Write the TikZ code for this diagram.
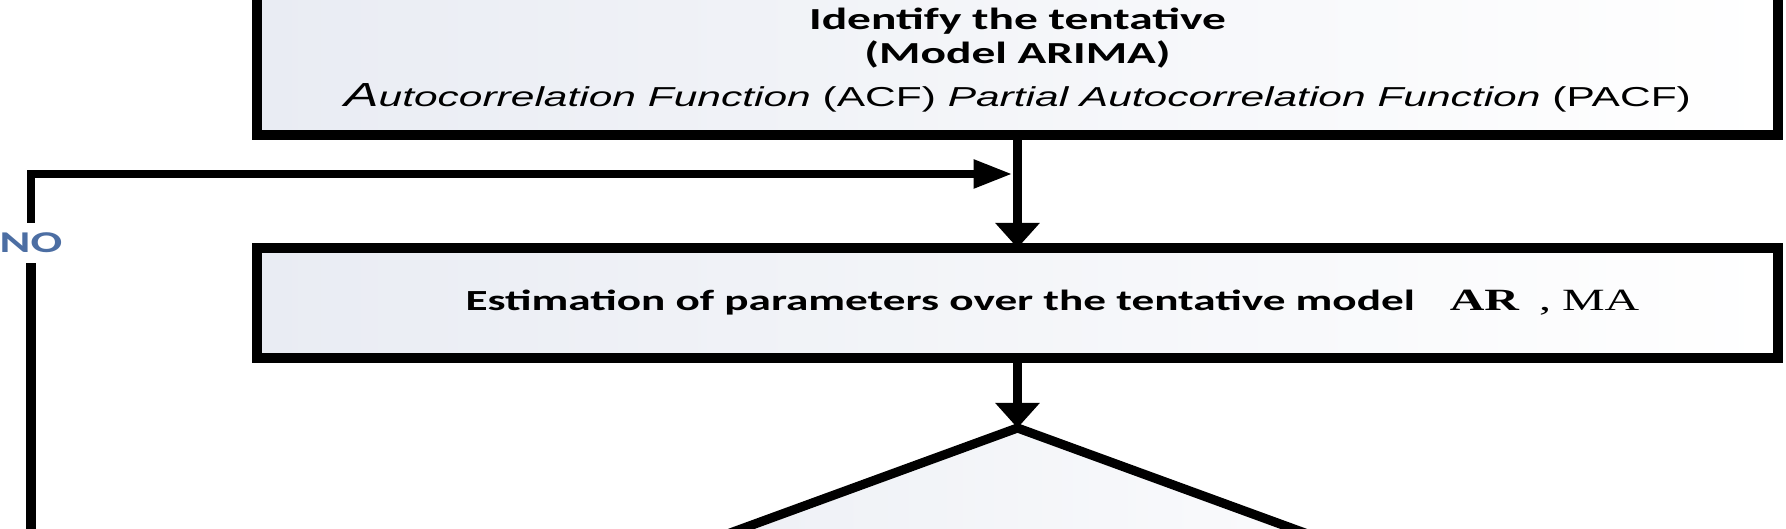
\documentclass[tikz,border=0pt]{standalone}
\usepackage{fontspec}
\newfontfamily\cbr{Carlito}
\newfontfamily\ars{Liberation Sans}
\newfontfamily\tms{Liberation Serif}
\usepackage{xcolor}
\definecolor{boxc}{HTML}{E9ECF3}
\definecolor{noc}{HTML}{4C6EA3}
\usetikzlibrary{arrows.meta,positioning,calc,shapes.geometric}
\tikzset{
  box/.style={draw=black,line width=2.6pt,left color=boxc,right color=white,minimum width=15.21cm,inner sep=0pt,outer sep=0pt,align=center},
  dec/.style={diamond,draw=black,line width=2.6pt,left color=boxc,right color=white,minimum width=10.4cm,minimum height=3.8cm,inner sep=0pt,outer sep=0pt},
  vflow/.style={-{Triangle[length=0.25cm,width=0.43cm]},line width=2.8pt},
  hflow/.style={-{Triangle[length=0.39cm,width=0.27cm]},line width=2.4pt},
  fb/.style={line width=2.8pt},
  nolab/.style={text=noc,font=\cbr\bfseries\fontsize{8.6}{8.6}\selectfont,inner sep=0pt,minimum height=0.39cm},
  ttl/.style={font=\cbr\bfseries\fontsize{8.7}{9.6}\selectfont},
}
\newcommand{\wide}[1]{\scalebox{1.55}[1]{#1}}

\begin{document}
\begin{tikzpicture}
  \useasboundingbox (0,0) rectangle (17.86,-5.29);
  \clip (0,0) rectangle (17.86,-5.29);
  \node[box,ttl,minimum height=1.5cm] (ident) at (10.175,-0.6)
    {\wide{Identify the tentative}\\
     \wide{(Model ARIMA)}\\[2.5pt]
     \wide{\ars\mdseries\fontsize{7.8}{9}\selectfont{\itshape{\fontsize{9.5}{9}\selectfont A}utocorrelation Function} (ACF) {\itshape Partial Autocorrelation Function} (PACF)}};
  \node[box,minimum height=1.1cm,below=1.13cm of ident] (estim)
    {\hspace*{0.7cm}\wide{\cbr\bfseries\fontsize{8.3}{9}\selectfont Estimation of parameters over the tentative model\hspace{6.4pt}{\tms\fontsize{8.8}{9}\selectfont AR}\hspace{3.7pt}{\tms\mdseries\fontsize{8.8}{9}\selectfont ,\hspace{2pt}MA}}};
  \node[dec,below=0.70cm of estim] (check) {};
  \node[nolab] (no) at (0.31,-2.43) {\wide{NO}};
  \draw[vflow] (ident.south) -- (estim.north);
  \draw[vflow] (estim.south) -- (check.north);
  \path (ident.south) -- (estim.north) coordinate[pos=0.345] (join);
  \draw[fb] (check.west) -| (no.south);
  \draw[hflow] (no.north) |- ([xshift=-0.05cm]join);
\end{tikzpicture}
\end{document}
